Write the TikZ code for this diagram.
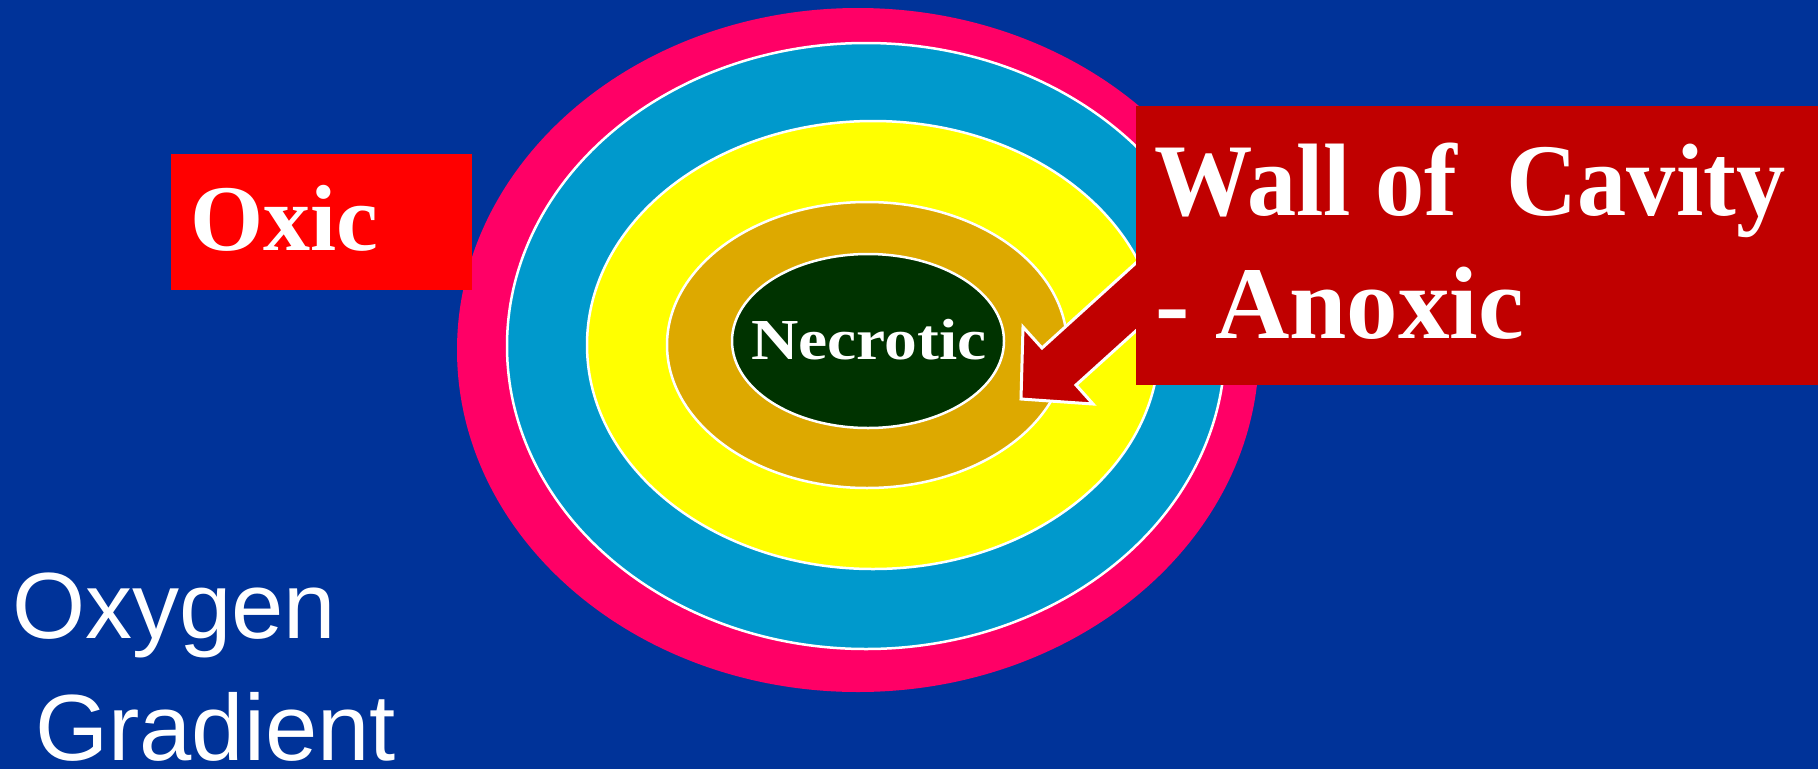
\documentclass[tikz,border=0pt]{standalone}
\usepackage{fontspec}
\setmainfont{Liberation Serif}
\setsansfont{Liberation Sans}
\usepackage{tikz}
\usetikzlibrary{shapes.geometric}
\usepackage{xcolor}

\definecolor{bgblue}{HTML}{003399}
\definecolor{ringpink}{HTML}{FF0066}
\definecolor{ringblue}{HTML}{0099CC}
\definecolor{ringyellow}{HTML}{FFFF00}
\definecolor{ringgold}{HTML}{DDA900}
\definecolor{coregreen}{HTML}{003300}
\definecolor{oxicred}{HTML}{FF0000}
\definecolor{wallred}{HTML}{C00000}

\begin{document}
\begin{tikzpicture}[x=1pt,y=-1pt,
    ring/.style={ellipse,inner sep=0pt,draw=white,line width=2.5pt},
    tagbox/.style={inner sep=0pt,outer sep=0pt},
    tagtext/.style={anchor=base west,inner sep=0pt,text=white}]
    % Background
    \fill[bgblue] (0,0) rectangle (1818,769);
    \useasboundingbox (0,0) rectangle (1818,769);

    % Rings of the cavity
    \node[ring,draw=none,fill=ringpink,minimum width=802pt,minimum height=684pt] (pink) at (858,350) {};
    \node[ring,fill=ringblue,minimum width=718pt,minimum height=606pt] (blue) at (866,346) {};
    \node[ring,fill=ringyellow,minimum width=572pt,minimum height=448pt] (yellow) at (873,345) {};
    \node[ring,fill=ringgold,minimum width=400pt,minimum height=286pt] (gold) at (867,345) {};
    \node[ring,fill=coregreen,minimum width=272pt,minimum height=174pt] (core) at (868,341) {};
    \node[anchor=base,inner sep=0pt,text=white,font=\bfseries\fontsize{58}{70}\selectfont]
        (necrotic) at (869,359) {\scalebox{1.13}[1]{Necrotic}};

    % Arrow to the wall
    \draw[white,line width=3pt,fill=wallred,line join=miter]
        (1190,214) -- (1042,348) -- (1023,327) -- (1021,399) -- (1093,404) -- (1076,385) -- (1190,282) -- cycle;

    % Boxes
    \node[tagbox,fill=oxicred,minimum width=301pt,minimum height=136pt] (oxicbox) at (321.5,222) {};
    \node[tagbox,fill=wallred,minimum width=682pt,minimum height=279pt] (wallbox) at (1477,245.5) {};

    % Texts
    \node[tagtext,font=\bfseries\fontsize{94}{110}\selectfont] (oxic) at (190,250) {Oxic};
    \node[tagtext,font=\bfseries\fontsize{103}{125}\selectfont] (wall) at (1154,215) {\scalebox{0.955}[1]{Wall of\ \ Cavity}};
    \node[tagtext,font=\bfseries\fontsize{103}{125}\selectfont] (anoxic) at (1155,338) {- Anoxic};
    \node[tagtext,font=\sffamily\fontsize{94}{122}\selectfont] (oxygen) at (12,638) {Oxygen};
    \node[tagtext,font=\sffamily\fontsize{94}{122}\selectfont] (gradient) at (35,760) {Gradient};
\end{tikzpicture}
\end{document}
